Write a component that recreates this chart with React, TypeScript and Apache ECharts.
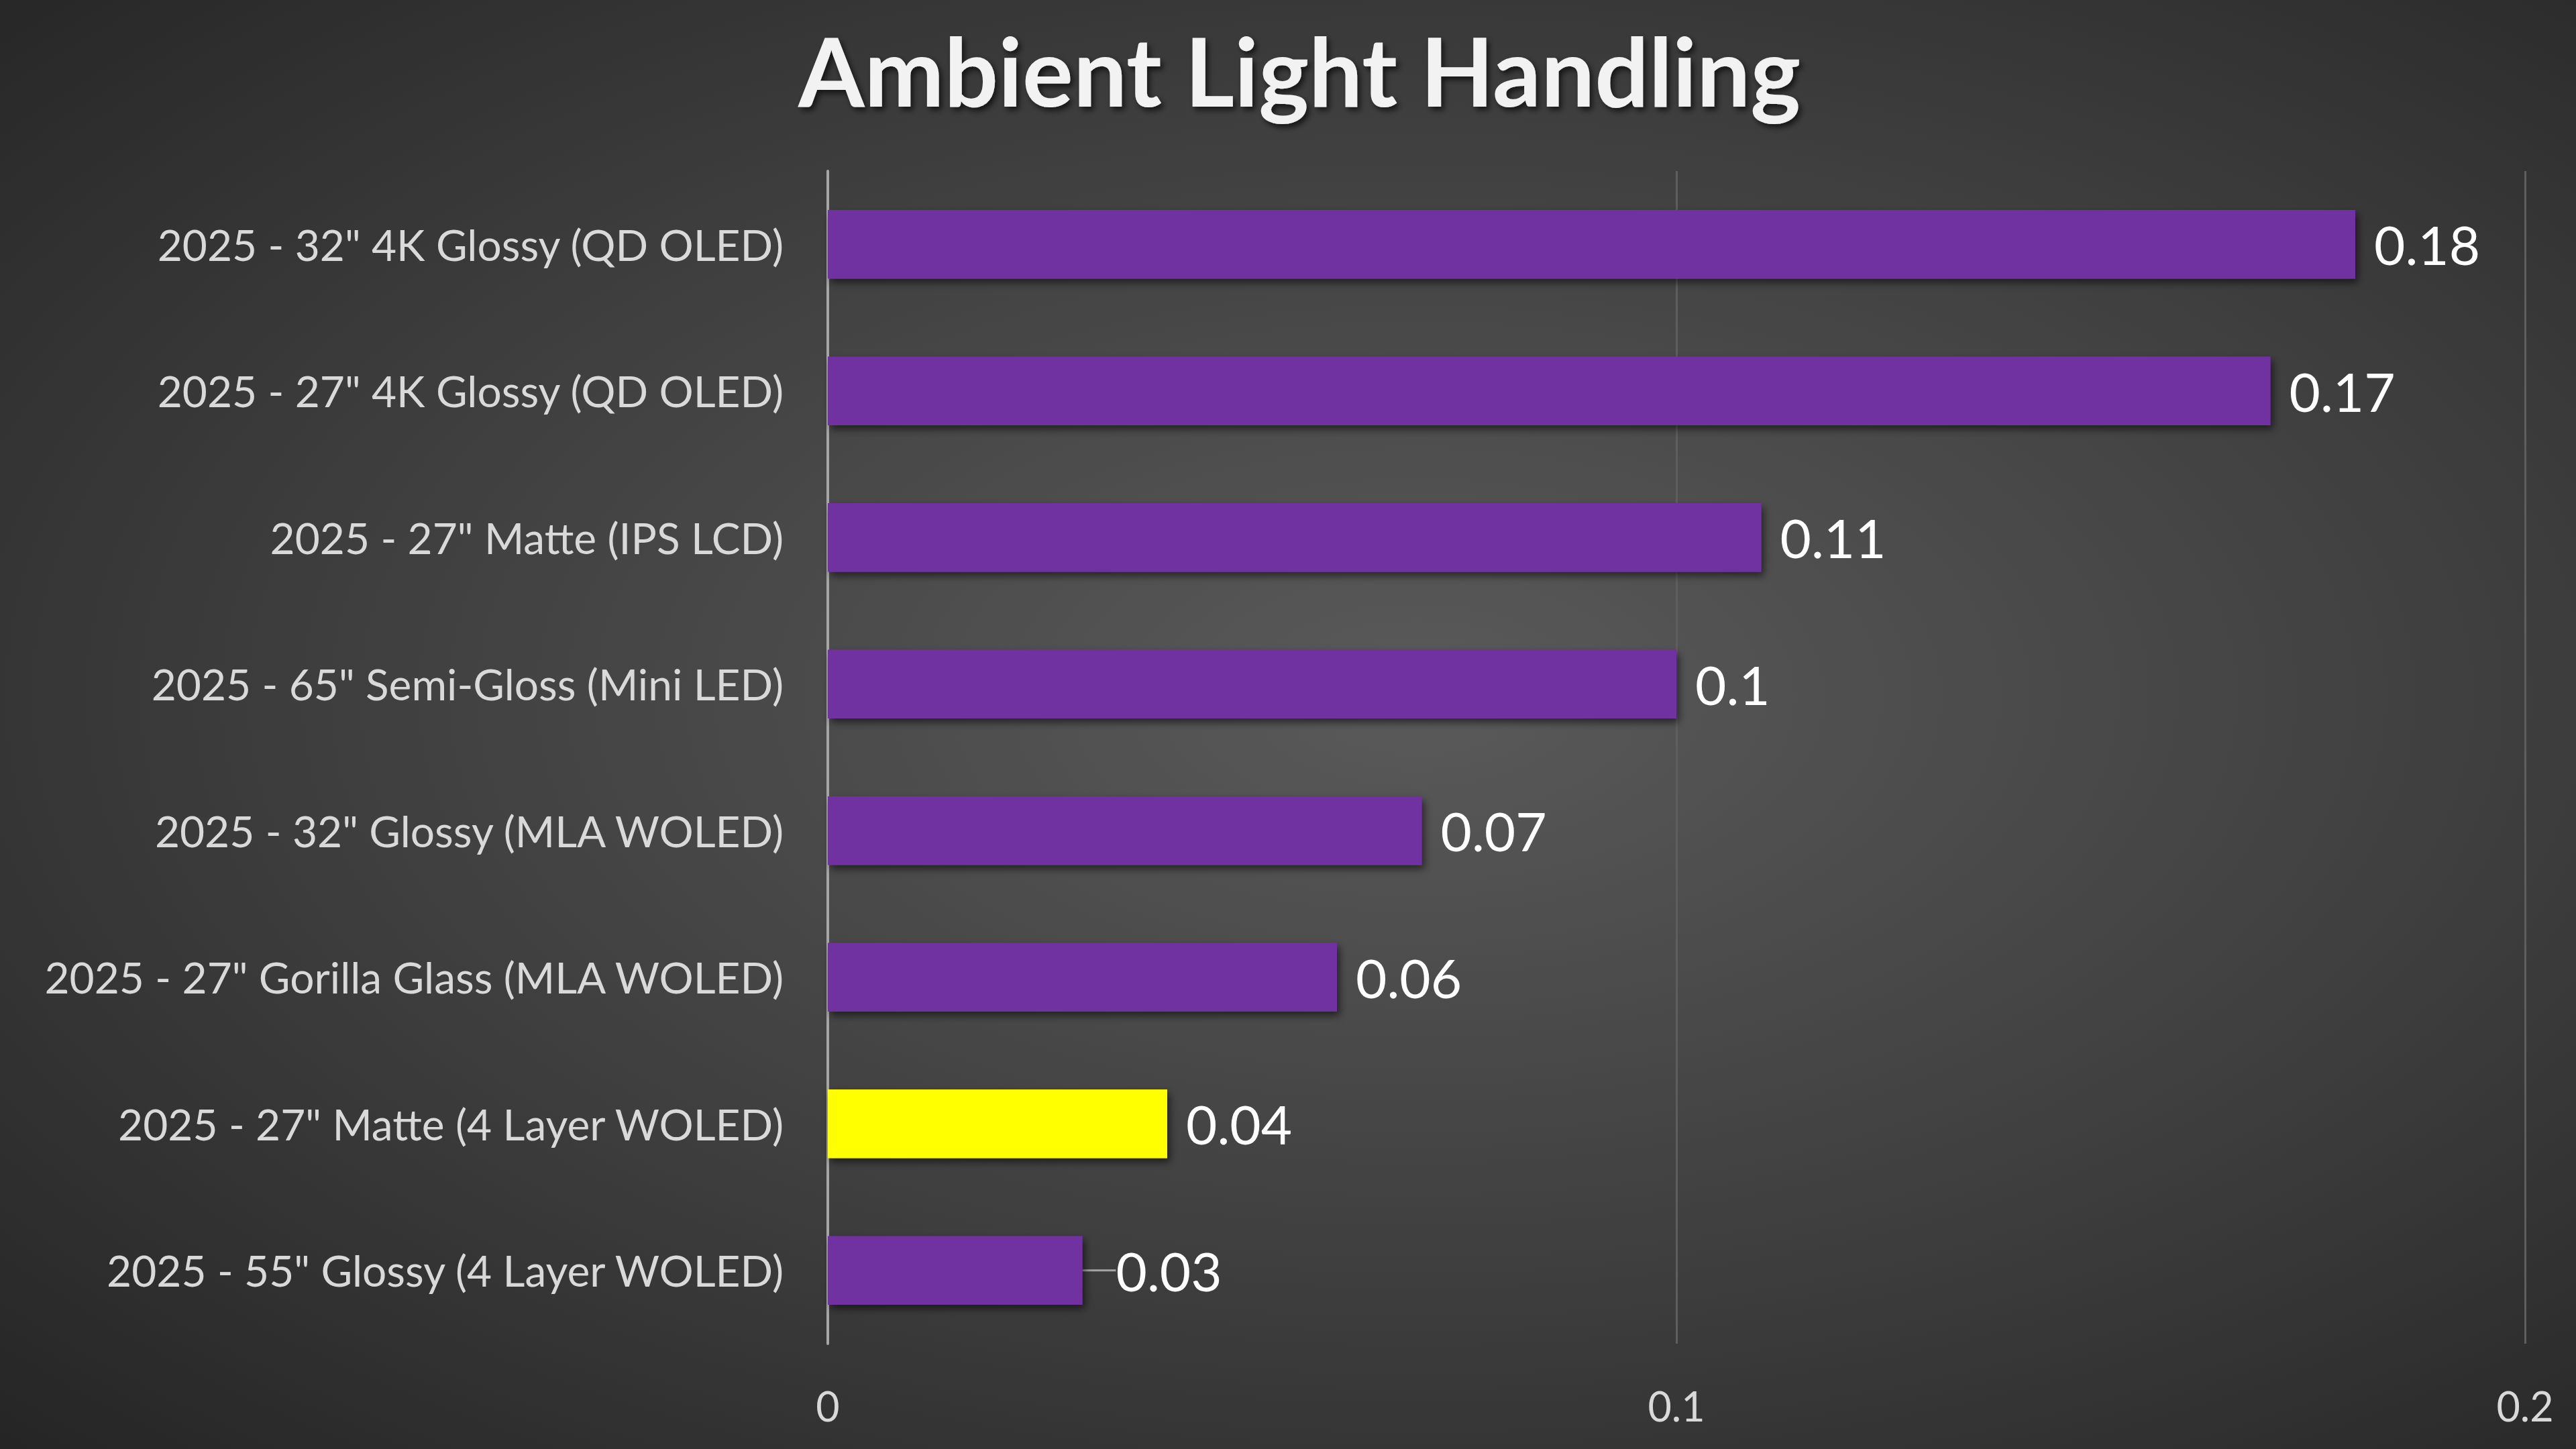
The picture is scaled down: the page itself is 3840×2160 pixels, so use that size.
import React, { useEffect, useRef } from "react";
import * as echarts from "echarts";

const titleText = "Ambient Light Handling";
const categories = [
  '2025 - 32" 4K Glossy (QD OLED)',
  '2025 - 27" 4K Glossy (QD OLED)',
  '2025 - 27" Matte (IPS LCD)',
  '2025 - 65" Semi-Gloss (Mini LED)',
  '2025 - 32" Glossy (MLA WOLED)',
  '2025 - 27" Gorilla Glass (MLA WOLED)',
  '2025 - 27" Matte (4 Layer WOLED)',
  '2025 - 55" Glossy (4 Layer WOLED)',
];
const values = [0.18, 0.17, 0.11, 0.1, 0.07, 0.06, 0.04, 0.03];
const highlighted = '2025 - 27" Matte (4 Layer WOLED)';
const leaderLabel = '2025 - 55" Glossy (4 Layer WOLED)';
const axisMin = 0;
const axisMax = 0.2;
const axisStep = 0.1;

const FONT = "Lato, 'Open Sans', sans-serif";

export default function App() {
  const ref = useRef<HTMLDivElement>(null);

  useEffect(() => {
    document.body.style.margin = "0";
    if (!ref.current) return;
    const chart = echarts.init(ref.current, null, { renderer: "svg" });

    const data = categories.map((name, i) => {
      const item: any = { name, value: values[i] };
      if (name === leaderLabel) {
        item.labelLine = {
          show: true,
          lineStyle: { color: "#a6a6a6", width: 3 },
        };
      }
      return item;
    });

    chart.setOption({
      animation: false,
      backgroundColor: "transparent",
      title: {
        text: titleText,
        left: 1185,
        top: 28,
        textStyle: {
          fontFamily: FONT,
          fontWeight: "bold",
          fontSize: 142,
          color: "#f2f2f2",
          textShadowColor: "rgba(0,0,0,0.65)",
          textShadowBlur: 8,
          textShadowOffsetX: 4,
          textShadowOffsetY: 5,
        },
      },
      grid: {
        left: 1234,
        right: 76,
        top: 255,
        bottom: 157,
        containLabel: false,
      },
      xAxis: {
        type: "value",
        min: axisMin,
        max: axisMax,
        interval: axisStep,
        axisLine: { show: false },
        axisTick: { show: false },
        axisLabel: {
          color: "#d9d9d9",
          fontFamily: FONT,
          fontSize: 61,
          margin: 62,
          formatter: (v: number) => String(Math.round(v * 10) / 10),
        },
        splitLine: {
          show: true,
          lineStyle: { color: "#5e5e5e", width: 3 },
        },
      },
      yAxis: {
        type: "category",
        inverse: true,
        data: categories,
        axisLine: {
          show: true,
          lineStyle: { color: "#a6a6a6", width: 4 },
        },
        axisTick: { show: false },
        axisLabel: {
          color: "#d9d9d9",
          fontFamily: FONT,
          fontSize: 64,
          margin: 66,
        },
        splitLine: { show: false },
      },
      series: [
        {
          type: "bar",
          data,
          barWidth: "47%",
          itemStyle: {
            color: (p: any) => (p.name === highlighted ? "#ffff00" : "#7030a0"),
            shadowColor: "rgba(0,0,0,0.55)",
            shadowBlur: 12,
            shadowOffsetX: 4,
            shadowOffsetY: 6,
          },
          label: {
            show: true,
            position: "right",
            distance: 28,
            color: "#ffffff",
            fontFamily: FONT,
            fontSize: 80,
          },
          labelLayout: (params: any) =>
            params.dataIndex === categories.indexOf(leaderLabel) ? { dx: 22 } : {},
        },
      ],
    });

    return () => chart.dispose();
  }, []);

  return (
    <div
      style={{
        position: "fixed",
        left: 0,
        top: 0,
        width: "3840px",
        height: "2160px",
        background:
          "radial-gradient(ellipse farthest-corner at 55% 48%, #5a5a5a 0%, #3e3e3e 55%, #252525 100%)",
      }}
    >
      <div ref={ref} style={{ width: "3840px", height: "2160px" }} />
    </div>
  );
}
